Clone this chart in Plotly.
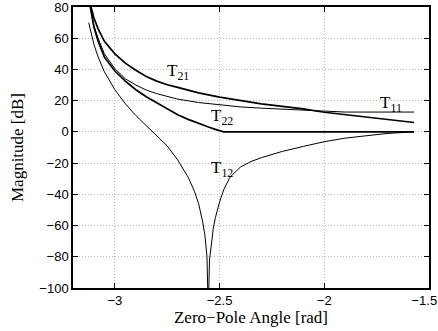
import plotly.graph_objects as go

# ---- data ----
x_t21 = [-3.13, -3.115, -3.10, -3.08, -3.05, -3.0, -2.95, -2.9, -2.85, -2.8, -2.75, -2.7,
         -2.6, -2.5, -2.4, -2.3, -2.2, -2.1, -2.0, -1.9, -1.8, -1.7, -1.5708]
y_t21 = [88, 80, 73, 66, 58, 50, 44, 39.5, 35.5, 32.5, 30.2, 28.5,
         25, 22.3, 20, 18, 16.3, 14.7, 12.6, 11.0, 9.5, 8.0, 6.0]

x_t11 = [-3.13, -3.118, -3.10, -3.08, -3.05, -3.0, -2.95, -2.9, -2.85, -2.8, -2.7, -2.6,
         -2.5, -2.4, -2.3, -2.2, -2.1, -2.0, -1.95, -1.9, -1.5708]
y_t11 = [88, 80, 68, 60, 50, 40.5, 34, 30, 26.8, 24.5, 21, 18.8,
         17.2, 16, 15.2, 14.5, 13.9, 13.1, 12.8, 12.7, 12.7]

x_t22 = [-3.13, -3.117, -3.10, -3.08, -3.05, -3.0, -2.95, -2.9, -2.85, -2.8, -2.75, -2.7,
         -2.65, -2.6, -2.55, -2.52, -2.50, -2.48, -1.5708]
y_t22 = [88, 80, 67, 58, 48, 39, 32.5, 27, 22.5, 18.5, 14.8, 11,
         8, 5.3, 3, 1.6, 0.7, 0, 0]

x_t12 = [-3.125, -3.10, -3.08, -3.05, -3.0, -2.95, -2.9, -2.85, -2.8, -2.75, -2.7, -2.65,
         -2.62, -2.60, -2.58, -2.57, -2.56, -2.554, -2.548, -2.54, -2.53, -2.52, -2.50,
         -2.48, -2.45, -2.40, -2.35, -2.30, -2.2, -2.1, -2.0, -1.9, -1.8, -1.7, -1.5708]
y_t12 = [70, 56, 48, 38.5, 27, 18, 10.5, 4, -2, -9, -18, -29,
         -38, -46, -58, -66, -80, -115, -82, -72, -62, -55, -45,
         -37, -29, -22.5, -19, -16.5, -12.5, -9.3, -6.3, -4, -2.3, -1, 0]

labels = ["T<sub>21</sub>", "T<sub>22</sub>", "T<sub>12</sub>", "T<sub>11</sub>"]
label_x = [-2.70, -2.49, -2.49, -1.68]
label_y = [38.5, 9.5, -24, 18.0]

x_ticks = [-3, -2.5, -2, -1.5]
x_ticktext = ["\u22123", "\u22122.5", "\u22122", "\u22121.5\u2002\u2009"]
y_ticks = [-100, -80, -60, -40, -20, 0, 20, 40, 60, 80]

fig = go.Figure()
series = [(x_t21, y_t21, 1.7), (x_t11, y_t11, 1.0), (x_t22, y_t22, 1.7), (x_t12, y_t12, 1.0)]
for xs, ys, w in series:
    fig.add_trace(go.Scatter(x=xs, y=ys, mode="lines",
                             line=dict(color="black", width=w), showlegend=False))

for t, lx, ly in zip(labels, label_x, label_y):
    fig.add_annotation(x=lx, y=ly, text=t, showarrow=False,
                       font=dict(family="Liberation Serif", size=17, color="black"))

axis_common = dict(
    showgrid=True, gridcolor="#bdbdbd", griddash="1px,2px", gridwidth=1,
    showline=True, linecolor="black", linewidth=1.5, mirror="ticks",
    ticks="inside", ticklen=5, tickcolor="black", tickwidth=1,
    zeroline=False, ticklabeloverflow="allow", automargin=False,
    tickfont=dict(family="Liberation Sans", size=13, color="black"),
)

fig.update_xaxes(range=[-3.2, -1.4995], tickvals=x_ticks, ticktext=x_ticktext,
                 title=dict(text="Zero\u2212Pole Angle [rad]",
                            font=dict(family="Liberation Serif", size=17, color="black"),
                            standoff=2),
                 **axis_common)
fig.update_yaxes(range=[-100, 80], tickvals=y_ticks,
                 ticktext=[str(v).replace("-", "\u2212") for v in y_ticks],
                 title=dict(text="Magnitude [dB]",
                            font=dict(family="Liberation Serif", size=17, color="black"),
                            standoff=11),
                 **axis_common)

fig.update_layout(width=438, height=331,
                  margin=dict(l=73, r=9, t=7, b=43),
                  plot_bgcolor="white", paper_bgcolor="white")

fig.write_html("out.html")
